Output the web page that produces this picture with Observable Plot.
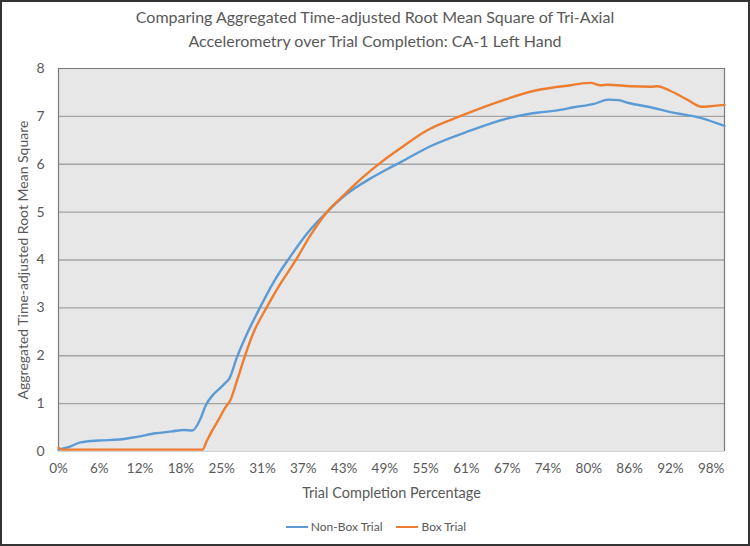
<!DOCTYPE html>
<html>
<head>
<meta charset="utf-8">
<script src="https://cdn.jsdelivr.net/npm/d3@7"></script>
<script src="https://cdn.jsdelivr.net/npm/@observablehq/plot@0.6"></script>
<style>
  html, body { margin: 0; padding: 0; background: #fff; }
  #wrap { position: relative; width: 750px; height: 546px; overflow: hidden; font-family: Lato, "Open Sans", sans-serif; color: #595959; }
  #frame { position: absolute; left: 0; top: 0; width: 750px; height: 546px; box-sizing: border-box; border: 2px solid #333; pointer-events: none; }
  #title { position: absolute; left: 0; top: 5px; width: 750px; text-align: center; font-size: 16px; line-height: 24px; }
  #chart { position: absolute; left: 0; top: 0; }
  #legend { position: absolute; left: 0; top: 519px; width: 752px; display: flex; justify-content: center; align-items: center; font-size: 12px; gap: 14px; }
  .item { display: flex; align-items: center; }
  .swatch { width: 22px; height: 0; border-top: 2.5px solid; margin-right: 3px; }
</style>
</head>
<body>
<div id="wrap">
  <div id="chart"></div>
  <div id="title">Comparing Aggregated Time-adjusted Root Mean Square of Tri-Axial<br>Accelerometry over Trial Completion: CA-1 Left Hand</div>
  <div id="legend"></div>
  <div id="frame"></div>
</div>
<script>
// ---- Data ----
const nonBoxPct = [0, 1.5, 3.3, 6.1, 9.1, 11.6, 14.6, 17.1, 18.8, 20.1, 21.3, 22.1, 23.3, 24.3, 25.1, 25.6, 26.8, 28.3, 30.3, 32.3, 34.6, 37.3, 40.3, 43.3, 46.8, 49.8, 51.6, 55.6, 61.6, 68.1, 72.1, 74.6, 77.4, 80.4, 82.6, 84.1, 85.6, 88.9, 91.9, 96.4, 100];
const nonBoxRms = [0.04, 0.09, 0.19, 0.23, 0.25, 0.30, 0.38, 0.42, 0.45, 0.44, 0.68, 0.96, 1.20, 1.33, 1.44, 1.51, 1.97, 2.46, 3.02, 3.54, 4.03, 4.55, 5.00, 5.38, 5.70, 5.93, 6.06, 6.36, 6.69, 6.98, 7.08, 7.12, 7.19, 7.26, 7.35, 7.34, 7.28, 7.19, 7.09, 6.97, 6.80];

const boxPct = [0, 0.5, 10, 21.6, 22.3, 23.1, 24.1, 25.1, 25.8, 26.8, 28.1, 29.3, 31.3, 33.3, 35.6, 37.8, 40.3, 42.8, 45.8, 48.8, 51.6, 55.1, 60.6, 66.6, 71.6, 74.6, 76.9, 78.6, 79.9, 81.4, 82.4, 85.9, 88.9, 89.9, 91.9, 94.4, 96.6, 98.4, 100];
const boxRms = [0.08, 0.04, 0.04, 0.04, 0.23, 0.44, 0.68, 0.93, 1.07, 1.48, 2.04, 2.49, 3.02, 3.50, 3.99, 4.51, 5.00, 5.35, 5.74, 6.08, 6.36, 6.69, 7.02, 7.33, 7.54, 7.61, 7.65, 7.69, 7.70, 7.65, 7.66, 7.63, 7.62, 7.63, 7.53, 7.35, 7.20, 7.22, 7.24];

const seriesNames = ["Non-Box Trial", "Box Trial"];
const seriesColors = ["#5b9bd5", "#ed7d31"];

const xTicks = [0, 6.125, 12.25, 18.375, 24.5, 30.625, 36.75, 42.875, 49, 55.125, 61.25, 67.375, 73.5, 79.625, 85.75, 91.875, 98];
const xTickLabels = ["0%", "6%", "12%", "18%", "25%", "31%", "37%", "43%", "49%", "55%", "61%", "67%", "74%", "80%", "86%", "92%", "98%"];
const yTicks = [0, 1, 2, 3, 4, 5, 6, 7, 8];

const xLabel = "Trial Completion Percentage";
const yLabel = "Aggregated Time-adjusted Root Mean Square";

// ---- Build table ----
const rows = [
  ...nonBoxPct.map((p, i) => ({pct: p, rms: nonBoxRms[i], series: seriesNames[0]})),
  ...boxPct.map((p, i) => ({pct: p, rms: boxRms[i], series: seriesNames[1]}))
];
const labelMap = new Map(xTicks.map((t, i) => [t, xTickLabels[i]]));
const textColor = "#595959";

const chart = Plot.plot({
  width: 750,
  height: 546,
  marginLeft: 58,
  marginRight: 26,
  marginTop: 68,
  marginBottom: 95,
  style: {fontFamily: "Lato, 'Open Sans', sans-serif", background: "transparent"},
  x: {domain: [0, 100]},
  y: {domain: [0, 8]},
  color: {domain: seriesNames, range: seriesColors},
  marks: [
    Plot.frame({fill: "#e7e7e7", stroke: null}),
    Plot.gridY(yTicks.filter(d => d > 0 && d < 8), {stroke: "#a3a3a3", strokeOpacity: 1, strokeWidth: 1.3}),
    Plot.ruleY([0], {stroke: "#d4d4d4", strokeWidth: 1}),
    Plot.ruleY([8], {stroke: "#7a7a7a", strokeWidth: 1.2}),
    Plot.ruleX([0, 100], {stroke: "#7a7a7a", strokeWidth: 1.2}),
    Plot.line(rows, {x: "pct", y: "rms", z: "series", stroke: "series", strokeWidth: 2.4, curve: "monotone-x"}),
    Plot.axisY(yTicks, {tickSize: 0, tickPadding: 14, fontSize: 14, fill: textColor, label: null}),
    Plot.axisX(xTicks, {tickSize: 0, tickPadding: 12, fontSize: 13.5, fill: textColor, label: null, tickFormat: d => labelMap.get(d)}),
    Plot.text([yLabel], {frameAnchor: "left", dx: -35, rotate: -90, fontSize: 14, fill: textColor, textAnchor: "middle", lineAnchor: "middle"}),
    Plot.text([xLabel], {frameAnchor: "bottom", dy: 42, fontSize: 14.5, fill: textColor, textAnchor: "middle", lineAnchor: "middle"})
  ]
});
document.getElementById("chart").appendChild(chart);

const legend = document.getElementById("legend");
seriesNames.forEach((name, i) => {
  const item = document.createElement("div");
  item.className = "item";
  const sw = document.createElement("span");
  sw.className = "swatch";
  sw.style.borderColor = seriesColors[i];
  const t = document.createElement("span");
  t.textContent = name;
  item.appendChild(sw);
  item.appendChild(t);
  legend.appendChild(item);
});
</script>
</body>
</html>
